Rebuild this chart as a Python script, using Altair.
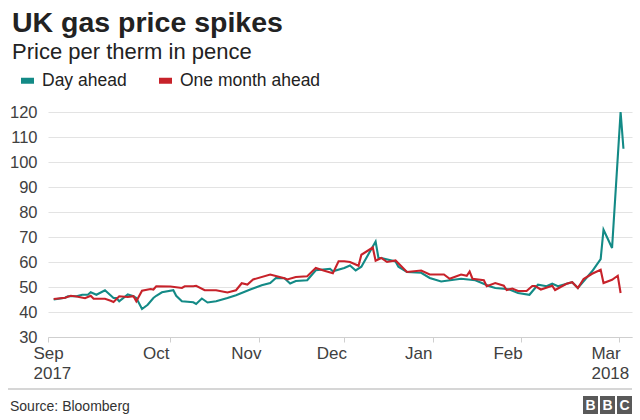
import altair as alt
import pandas as pd

# ---- data ----
series_names = ["Day ahead", "One month ahead"]
series_colors = ["#138a86", "#c7222a"]

day_ahead_dates = [
    "2017-08-21", "2017-08-25", "2017-08-26", "2017-08-29", "2017-08-31", "2017-09-02",
    "2017-09-03", "2017-09-05", "2017-09-08", "2017-09-11", "2017-09-12", "2017-09-13",
    "2017-09-16", "2017-09-18", "2017-09-19", "2017-09-21", "2017-09-23", "2017-09-25",
    "2017-09-26", "2017-09-28", "2017-10-02", "2017-10-03", "2017-10-05", "2017-10-09",
    "2017-10-10", "2017-10-12", "2017-10-14", "2017-10-17", "2017-10-21", "2017-10-24",
    "2017-10-29", "2017-11-02", "2017-11-05", "2017-11-07", "2017-11-10", "2017-11-12",
    "2017-11-14", "2017-11-18", "2017-11-21", "2017-11-26", "2017-11-27", "2017-12-01",
    "2017-12-03", "2017-12-05", "2017-12-07", "2017-12-12", "2017-12-13", "2017-12-14",
    "2017-12-19", "2017-12-20", "2017-12-23", "2017-12-28", "2017-12-31", "2018-01-04",
    "2018-01-11", "2018-01-16", "2018-01-21", "2018-01-23", "2018-01-26", "2018-01-28",
    "2018-01-31", "2018-02-04", "2018-02-06", "2018-02-07", "2018-02-10", "2018-02-12",
    "2018-02-14", "2018-02-19", "2018-02-21", "2018-02-26", "2018-03-01", "2018-03-02",
    "2018-03-05", "2018-03-08", "2018-03-09",
]
day_ahead_values = [
    45.0, 45.7, 46.3, 46.3, 46.9, 46.9,
    47.9, 46.9, 48.7, 45.6, 45.6, 44.3,
    47.0, 46.3, 45.6, 41.2, 42.9, 45.6,
    46.5, 47.9, 48.7, 46.5, 44.3, 43.9,
    43.2, 45.4, 43.8, 44.3, 45.6, 46.7,
    49.0, 50.7, 51.6, 53.6, 53.5, 51.4,
    52.4, 52.7, 56.7, 57.3, 56.3, 57.6,
    58.6, 56.6, 58.1, 68.2, 61.6, 61.6,
    60.2, 58.1, 56.0, 55.7, 53.6, 52.2,
    53.3, 52.7, 50.3, 49.6, 49.3, 49.0,
    47.6, 46.9, 49.6, 50.9, 50.3, 51.3,
    50.3, 51.9, 49.6, 56.3, 61.2, 72.9,
    65.6, 120.0, 105.3,
]

month_ahead_dates = [
    "2017-08-21", "2017-08-25", "2017-08-27", "2017-08-29", "2017-09-01", "2017-09-03",
    "2017-09-04", "2017-09-08", "2017-09-10", "2017-09-11", "2017-09-13", "2017-09-16",
    "2017-09-18", "2017-09-19", "2017-09-21", "2017-09-24", "2017-09-25", "2017-09-26",
    "2017-10-01", "2017-10-05", "2017-10-06", "2017-10-09", "2017-10-10", "2017-10-13",
    "2017-10-17", "2017-10-21", "2017-10-24", "2017-10-26", "2017-10-28", "2017-10-30",
    "2017-11-05", "2017-11-10", "2017-11-11", "2017-11-14", "2017-11-18", "2017-11-21",
    "2017-11-24", "2017-11-27", "2017-11-29", "2017-12-01", "2017-12-03", "2017-12-05",
    "2017-12-06", "2017-12-07", "2017-12-11", "2017-12-12", "2017-12-14", "2017-12-16",
    "2017-12-19", "2017-12-23", "2017-12-28", "2017-12-31", "2018-01-05", "2018-01-07",
    "2018-01-11", "2018-01-13", "2018-01-14", "2018-01-15", "2018-01-19", "2018-01-20",
    "2018-01-23", "2018-01-26", "2018-01-27", "2018-01-29", "2018-01-31", "2018-02-03",
    "2018-02-05", "2018-02-06", "2018-02-08", "2018-02-12", "2018-02-13", "2018-02-17",
    "2018-02-19", "2018-02-21", "2018-02-23", "2018-02-26", "2018-03-01", "2018-03-02",
    "2018-03-05", "2018-03-07", "2018-03-08",
]
month_ahead_values = [
    45.2, 45.7, 46.5, 46.2, 45.5, 46.5,
    45.3, 45.3, 44.5, 44.0, 46.3, 46.0,
    46.3, 44.3, 48.5, 49.2, 49.0, 50.3,
    50.2, 49.6, 50.3, 50.3, 50.5, 48.7,
    48.7, 47.8, 48.7, 51.5, 51.0, 53.0,
    55.0, 53.5, 53.0, 54.0, 54.3, 57.6,
    56.5, 55.5, 60.3, 60.3, 60.0, 59.0,
    58.5, 62.9, 65.8, 60.5, 61.6, 60.0,
    60.6, 56.0, 56.6, 55.0, 55.0, 53.3,
    55.0, 54.5, 56.2, 53.3, 52.7, 50.3,
    51.6, 50.5, 48.8, 49.4, 48.4, 48.4,
    50.4, 50.4, 49.0, 50.5, 48.8, 51.3,
    51.9, 49.6, 53.2, 55.3, 56.9, 51.6,
    52.9, 54.5, 47.6,
]

y_ticks = [30, 40, 50, 60, 70, 80, 90, 100, 110, 120]

title_text = "UK gas price spikes"
subtitle_text = "Price per therm in pence"
source_text = "Source: Bloomberg"
logo_letters = ["B", "B", "C"]

FONT = "Liberation Sans"
TEXT_COLOR = "#222222"
AXIS_TEXT = "#404040"

df = pd.concat([
    pd.DataFrame({"date": day_ahead_dates, "price": day_ahead_values, "series": series_names[0]}),
    pd.DataFrame({"date": month_ahead_dates, "price": month_ahead_values, "series": series_names[1]}),
], ignore_index=True)

def dt(y, m, d, h=0):
    return alt.DateTime(year=y, month=m, date=d, hours=h, utc=True)

x_ticks = [dt(2017, 8, 19), dt(2017, 10, 1), dt(2017, 11, 1), dt(2017, 12, 1),
           dt(2018, 1, 1), dt(2018, 2, 1), dt(2018, 3, 7, 10)]

label_expr = ("utcmonth(datum.value) == 7 ? ['Sep', '2017'] : "
              "utcmonth(datum.value) == 2 ? ['Mar', '2018'] : utcFormat(datum.value, '%b')")

lines = alt.Chart(df).mark_line(strokeWidth=2.1, strokeJoin="miter").encode(
    x=alt.X("date:T",
            scale=alt.Scale(type="utc", domain=[dt(2017, 8, 19), dt(2018, 3, 12)]),
            axis=alt.Axis(values=x_ticks, labelExpr=label_expr, title=None, grid=False,
                          labelAlign="left",
                          labelOffset={"condition": {"test": "utcmonth(datum.value) == 7", "value": -15},
                                       "value": -28},
                          labelBaseline="top", labelPadding=3, labelLineHeight=20,
                          labelFontSize=17, labelColor=AXIS_TEXT, labelFont=FONT,
                          tickSize=5, tickColor="#cfcfcf", domainColor="#cfcfcf",
                          labelFlush=False, labelOverlap=False)),
    y=alt.Y("price:Q",
            scale=alt.Scale(domain=[30, 120], nice=False, zero=False),
            axis=alt.Axis(values=y_ticks, title=None, ticks=False, domain=False,
                          labelFontSize=16.5, labelColor=AXIS_TEXT, labelFont=FONT,
                          labelPadding=11, gridColor="#e3e3e3", gridWidth=1)),
    color=alt.Color("series:N",
                    scale=alt.Scale(domain=series_names, range=series_colors),
                    legend=alt.Legend(orient="none", legendX=-30, legendY=-41,
                                      direction="horizontal", title=None,
                                      symbolType="stroke", symbolStrokeWidth=6,
                                      symbolSize=169, labelOffset=5, columnPadding=20,
                                      labelFontSize=17.5, labelFont=FONT,
                                      labelColor=TEXT_COLOR, padding=0)),
)

def label(text, x, y, size, weight="normal", color=TEXT_COLOR, align="left"):
    return alt.Chart(pd.DataFrame({"t": [text]})).mark_text(
        align=align, baseline="alphabetic", fontSize=size, fontWeight=weight,
        font=FONT, color=color
    ).encode(x=alt.value(x), y=alt.value(y), text="t:N")

title = label(title_text, -36, -80, 28.5, "bold")
subtitle = label(subtitle_text, -36, -53, 22)
source = label(source_text, -38, 299, 14, color="#333333")

bottom_rule = alt.Chart(pd.DataFrame({"a": [0]})).mark_rule(
    color="#c8c8c8", strokeWidth=1.5
).encode(x=alt.value(-40), x2=alt.value(584), y=alt.value(277))

logo_layers = []
for i, letter in enumerate(logo_letters):
    x0 = 535 + i * 17
    box = alt.Chart(pd.DataFrame({"a": [0]})).mark_rect(color="#595959").encode(
        x=alt.value(x0), x2=alt.value(x0 + 15), y=alt.value(284), y2=alt.value(302))
    txt = alt.Chart(pd.DataFrame({"t": [letter]})).mark_text(
        align="center", baseline="middle", fontSize=14, fontWeight="bold",
        font=FONT, color="white"
    ).encode(x=alt.value(x0 + 7.5), y=alt.value(293.5), text="t:N")
    logo_layers += [box, txt]

chart = alt.layer(lines, bottom_rule, title, subtitle, source, *logo_layers).properties(
    width=584, height=225,
    padding={"left": 48, "top": 112, "right": 8, "bottom": 83},
    autosize=alt.AutoSizeParams(type="none"),
    background="white",
).configure_view(stroke=None)

chart.save("out.html", embed_options={"renderer": "svg", "actions": False})
